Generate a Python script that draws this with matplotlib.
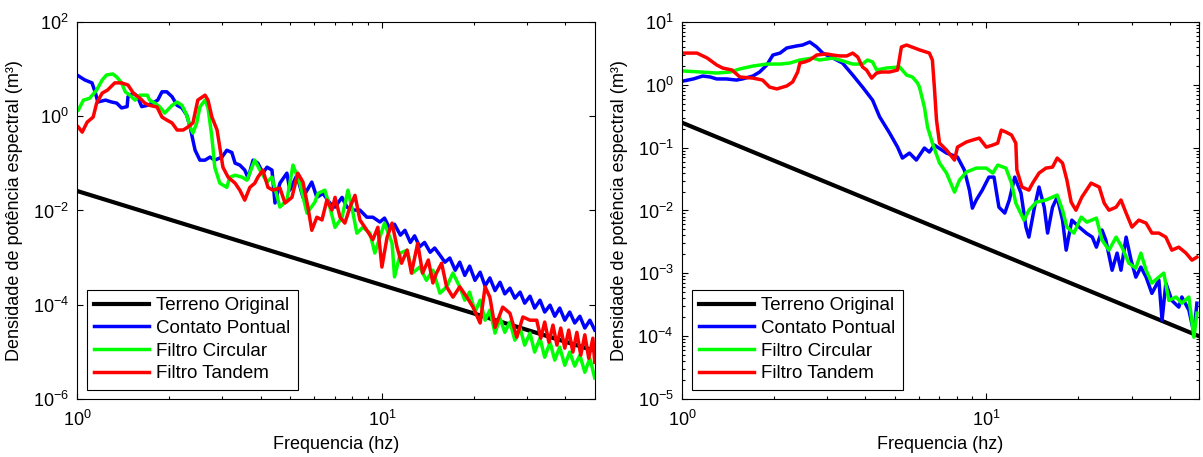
import matplotlib
matplotlib.use('Agg')
import matplotlib.pyplot as plt
from matplotlib.ticker import NullLocator, NullFormatter, LogLocator

# --- Style Configuration (MATLAB-like look) ---
plt.rcParams['font.family'] = ['Liberation Sans', 'DejaVu Sans']
plt.rcParams['mathtext.fontset'] = 'custom'
plt.rcParams['mathtext.rm'] = 'Liberation Sans'
plt.rcParams['mathtext.it'] = 'Liberation Sans:italic'
plt.rcParams['mathtext.bf'] = 'Liberation Sans:bold'
plt.rcParams['axes.linewidth'] = 0.8

LABELS = ['Terreno Original', 'Contato Pontual', 'Filtro Circular', 'Filtro Tandem']
COLORS = ['#000000', '#0000ff', '#00ff00', '#ff0000']

# --- Left panel data (frequency in Hz, PSD in m^3) ---
terreno_l_f = [1.0, 50.0]
terreno_l_p = [2.6e-2, 1.05e-5]

contato_l_f = [1.00, 1.06, 1.12, 1.15, 1.17, 1.24, 1.30, 1.35, 1.40, 1.46,
               1.47, 1.53, 1.58, 1.63, 1.70, 1.77, 1.84, 1.90, 1.97, 2.05,
               2.13, 2.21, 2.29, 2.35, 2.40, 2.44, 2.53, 2.63, 2.73, 2.83,
               2.99, 3.10, 3.22, 3.30, 3.42, 3.55, 3.64, 3.78, 3.92, 4.07,
               4.20, 4.36, 4.46, 4.63, 4.88, 4.99, 5.26, 5.51, 5.89, 6.12,
               6.41, 6.75, 7.02, 7.40, 7.68, 8.04, 8.47, 8.93, 9.34, 9.85,
               10.2, 10.6, 11.0, 11.5, 11.9, 12.4, 12.8, 13.3, 13.8, 14.4,
               14.9, 15.5, 16.1, 16.7, 17.4, 18.0, 18.7, 19.4, 20.2, 21.0,
               21.8, 22.6, 23.5, 24.4, 25.3, 26.3, 27.3, 28.4, 29.4, 30.6,
               31.7, 33.0, 34.2, 35.6, 36.9, 38.3, 39.8, 41.3, 42.9, 44.6,
               46.3, 48.1, 49.9]
contato_l_p = [7.5, 5.9, 5.1, 3.1, 2.0, 2.2, 2.0, 1.9, 1.5, 1.6,
               2.6, 3.1, 2.6, 1.6, 1.7, 1.9, 2.2, 3.3, 3.3, 2.6,
               1.7, 1.5, 1.06, 0.59, 0.31, 0.19, 0.117, 0.117, 0.136, 0.117,
               0.136, 0.19, 0.17, 0.101, 0.092, 0.072, 0.049, 0.117, 0.101, 0.062,
               0.083, 0.072, 0.0144, 0.038, 0.062, 0.027, 0.056, 0.019, 0.040, 0.019,
               0.023, 0.0144, 0.0118, 0.019, 0.0118, 0.0102, 0.0102, 0.0072, 0.0072, 0.0057,
               0.0069, 0.0042, 0.0051, 0.0030, 0.0038, 0.0021, 0.0029, 0.0017, 0.0021, 0.0013,
               0.0016, 0.00113, 0.0008, 0.00098, 0.00054, 0.0008, 0.00042, 0.00066, 0.00033, 0.00049,
               0.00025, 0.00037, 0.0002, 0.0003, 0.00017, 0.000225, 0.000138, 0.000185, 0.000108, 0.000152,
               8.5e-5, 0.000125, 7.0e-5, 9.8e-5, 5.7e-5, 8.5e-5, 4.7e-5, 7.0e-5, 4.1e-5, 5.7e-5,
               3.2e-5, 4.7e-5, 2.9e-5]

circular_l_f = [1.01, 1.05, 1.10, 1.16, 1.21, 1.25, 1.31, 1.35, 1.40, 1.44,
                1.49, 1.55, 1.61, 1.70, 1.73, 1.80, 1.87, 1.94, 2.05, 2.13,
                2.21, 2.29, 2.35, 2.40, 2.47, 2.53, 2.63, 2.69, 2.77, 2.83,
                2.94, 3.10, 3.17, 3.30, 3.48, 3.61, 3.75, 3.83, 3.98, 4.20,
                4.36, 4.63, 4.88, 5.11, 5.38, 5.68, 6.03, 6.17, 6.50, 6.75,
                7.02, 7.40, 7.74, 8.04, 8.28, 8.66, 9.14, 9.48, 9.85, 10.2,
                10.8, 11.0, 11.5, 12.1, 12.6, 13.3, 14.0, 14.7, 15.5, 16.3,
                17.1, 18.0, 18.7, 19.4, 20.2, 21.0, 21.8, 22.6, 23.5, 24.4,
                25.3, 26.3, 27.3, 28.4, 29.4, 30.6, 31.7, 33.0, 34.2, 35.6,
                36.9, 38.3, 39.8, 41.3, 42.9, 44.6, 46.3, 48.1, 49.9]
circular_l_p = [1.35, 2.2, 2.4, 3.6, 5.9, 7.5, 7.9, 6.8, 5.1, 3.3,
                2.8, 2.2, 2.8, 2.8, 2.2, 1.9, 1.57, 1.17, 1.7, 2.0,
                1.7, 1.06, 0.59, 0.44, 0.72, 1.57, 2.2, 1.49, 0.36, 0.083,
                0.038, 0.031, 0.051, 0.056, 0.051, 0.044, 0.083, 0.117, 0.072, 0.040,
                0.051, 0.0118, 0.0166, 0.092, 0.038, 0.0088, 0.0151, 0.023, 0.027, 0.0118,
                0.0044, 0.0072, 0.027, 0.0088, 0.0033, 0.0044, 0.0033, 0.00125, 0.0027, 0.0054,
                0.0020, 0.00039, 0.00125, 0.00144, 0.00047, 0.00063, 0.00033, 0.00054, 0.000176, 0.00024,
                0.00047, 0.00024, 0.000125, 0.000185, 7.0e-5, 0.000125, 4.7e-5, 7.7e-5, 2.5e-5, 5.2e-5,
                2.6e-5, 4.3e-5, 1.77e-5, 3.2e-5, 1.39e-5, 2.5e-5, 9.9e-6, 1.95e-5, 7.7e-6, 1.6e-5,
                6.7e-6, 1.26e-5, 5.2e-6, 9.9e-6, 5.0e-6, 8.5e-6, 3.7e-6, 7.3e-6, 2.8e-6]

tandem_l_f = [1.01, 1.04, 1.08, 1.13, 1.16, 1.21, 1.26, 1.33, 1.40, 1.47,
              1.53, 1.61, 1.67, 1.73, 1.83, 1.90, 1.97, 2.05, 2.13, 2.23,
              2.31, 2.40, 2.49, 2.63, 2.69, 2.77, 2.88, 2.94, 3.01, 3.13,
              3.30, 3.42, 3.55, 3.69, 3.83, 3.92, 4.07, 4.23, 4.39, 4.63,
              4.81, 5.07, 5.30, 5.51, 5.72, 5.89, 6.12, 6.36, 6.60, 6.86,
              7.02, 7.29, 7.56, 7.86, 8.16, 8.47, 8.93, 9.34, 9.70, 10.0,
              10.4, 10.8, 11.2, 11.6, 12.1, 12.5, 13.1, 13.6, 14.2, 14.7,
              15.1, 15.7, 16.3, 17.1, 18.0, 19.0, 19.9, 21.0, 21.8, 22.6,
              23.5, 24.9, 26.3, 27.7, 29.0, 30.6, 32.2, 33.2, 34.2, 35.3,
              36.4, 37.5, 38.6, 39.8, 41.0, 42.3, 43.6, 44.9, 46.3, 47.7,
              49.2, 49.9]
tandem_l_p = [0.59, 0.46, 0.75, 0.96, 1.9, 3.1, 3.6, 5.1, 5.1, 4.6,
              3.1, 2.4, 1.9, 1.7, 1.57, 0.96, 0.83, 0.72, 0.51, 0.51,
              0.59, 0.72, 2.2, 2.8, 2.2, 0.96, 0.51, 0.22, 0.083, 0.051,
              0.038, 0.027, 0.0166, 0.031, 0.038, 0.051, 0.072, 0.031, 0.027, 0.030,
              0.0144, 0.019, 0.062, 0.040, 0.0118, 0.0038, 0.0072, 0.0063, 0.0166, 0.0102,
              0.019, 0.0072, 0.0054, 0.0118, 0.021, 0.0063, 0.0038, 0.0024, 0.0044, 0.00063,
              0.0027, 0.0054, 0.0017, 0.00076, 0.00144, 0.00047, 0.0020, 0.00047, 0.00089, 0.00029,
              0.00047, 0.00076, 0.00024, 0.000145, 0.00024, 0.000145, 8.9e-5, 4.1e-5, 0.00024, 0.000145,
              3.3e-5, 8.9e-5, 6.6e-5, 2.05e-5, 5.5e-5, 4.7e-5, 4.7e-5, 1.95e-5, 4.3e-5, 1.6e-5,
              3.7e-5, 1.39e-5, 3.2e-5, 1.2e-5, 2.9e-5, 9.9e-6, 2.6e-5, 8.5e-6, 2.3e-5, 7.3e-6,
              1.95e-5, 6.0e-6]

# --- Right panel data ---
terreno_r_f = [1.0, 50.0]
terreno_r_p = [0.25, 1.0e-4]

contato_r_f = [1.01, 1.09, 1.17, 1.24, 1.30, 1.40, 1.51, 1.58, 1.71, 1.80,
               1.90, 1.99, 2.10, 2.21, 2.38, 2.49, 2.63, 2.77, 2.90, 3.13,
               3.37, 3.64, 3.92, 4.23, 4.46, 4.81, 5.11, 5.30, 5.59, 5.89,
               6.26, 6.50, 6.75, 7.40, 8.04, 8.47, 8.80, 9.00, 9.27, 9.70,
               10.2, 10.6, 11.0, 11.5, 11.9, 12.4, 13.0, 13.5, 13.8, 14.4,
               14.9, 15.5, 15.9, 16.5, 17.1, 17.8, 18.3, 19.1, 20.2, 21.3,
               22.3, 23.0, 24.0, 24.7, 25.9, 26.9, 27.7, 28.8, 29.9, 31.0,
               32.2, 33.5, 35.0, 36.9, 37.8, 38.9, 40.7, 42.9, 43.9, 46.3,
               48.1, 49.2]
contato_r_p = [1.15, 1.24, 1.38, 1.33, 1.24, 1.24, 1.19, 1.24, 1.38, 1.60,
               2.07, 2.98, 3.2, 3.86, 4.15, 4.3, 4.8, 4.0, 3.2, 2.67,
               2.22, 1.43, 0.92, 0.57, 0.31, 0.171, 0.102, 0.0683, 0.082, 0.0635,
               0.0986, 0.0851, 0.110, 0.082, 0.0709, 0.044, 0.0211, 0.0109, 0.0147, 0.0211,
               0.034, 0.034, 0.0113, 0.0091, 0.0147, 0.034, 0.0189, 0.00544, 0.00377, 0.0113,
               0.0236, 0.0113, 0.00437, 0.0113, 0.0163, 0.00703, 0.00234, 0.00703, 0.00544, 0.00437,
               0.00377, 0.00261, 0.00488, 0.00338, 0.00112, 0.0021, 0.00112, 0.00377, 0.00162, 0.00087,
               0.00126, 0.00087, 0.00048, 0.00078, 0.00018, 0.0007, 0.00037, 0.00029, 0.00042, 0.00026,
               0.000112, 0.000335]

circular_r_f = [1.01, 1.15, 1.30, 1.44, 1.55, 1.71, 1.90, 2.10, 2.26, 2.44,
                2.69, 2.83, 2.99, 3.13, 3.30, 3.64, 3.92, 4.07, 4.23, 4.36,
                4.70, 5.19, 5.47, 5.72, 5.94, 6.03, 6.26, 6.41, 6.65, 7.02,
                7.40, 7.86, 8.16, 8.60, 9.27, 10.0, 10.5, 10.9, 11.6, 12.1,
                12.5, 13.3, 13.8, 14.6, 15.7, 16.5, 17.1, 17.8, 18.4, 19.4,
                20.5, 21.4, 23.0, 24.0, 25.3, 26.7, 27.9, 29.4, 31.0, 32.2,
                33.5, 35.0, 36.9, 38.3, 39.8, 42.0, 43.9, 46.3, 48.1, 49.2]
circular_r_p = [1.66, 1.60, 1.54, 1.60, 1.79, 1.99, 2.14, 2.14, 2.22, 2.48,
                2.67, 2.48, 2.58, 2.67, 2.48, 2.14, 2.14, 2.48, 2.31, 1.72,
                1.85, 1.92, 1.43, 1.33, 1.07, 0.92, 0.44, 0.213, 0.118, 0.0569,
                0.0394, 0.0196, 0.0305, 0.0409, 0.0473, 0.0473, 0.0394, 0.0528, 0.0473, 0.0273,
                0.0131, 0.00703, 0.0101, 0.0136, 0.0147, 0.0163, 0.0176, 0.0101, 0.00544, 0.00437,
                0.00785, 0.00653, 0.00757, 0.00338, 0.00234, 0.00377, 0.00261, 0.00145, 0.00121, 0.0021,
                0.00112, 0.0007, 0.00087, 0.00101, 0.00037, 0.00042, 0.000335, 0.00042, 9.6e-5, 0.000232]

tandem_r_f = [1.01, 1.12, 1.21, 1.30, 1.36, 1.46, 1.55, 1.71, 1.84, 1.94,
              2.05, 2.21, 2.31, 2.40, 2.44, 2.53, 2.63, 2.77, 2.99, 3.13,
              3.30, 3.48, 3.64, 3.78, 3.92, 4.04, 4.20, 4.36, 4.53, 4.81,
              5.11, 5.26, 5.47, 6.03, 6.50, 6.65, 6.75, 6.86, 7.02, 7.40,
              7.86, 8.04, 8.60, 9.00, 9.48, 10.0, 10.5, 10.9, 11.2, 11.6,
              12.1, 12.5, 12.6, 13.1, 13.8, 14.2, 14.9, 15.7, 16.5, 17.1,
              17.8, 18.4, 19.0, 19.7, 20.6, 22.1, 23.5, 24.4, 25.3, 26.7,
              27.7, 28.8, 30.1, 31.7, 33.5, 35.0, 36.9, 38.9, 40.7, 42.9,
              45.3, 47.4, 49.2]
tandem_r_p = [3.2, 3.2, 2.67, 2.07, 1.85, 1.72, 1.33, 1.28, 1.19, 0.92,
              0.86, 0.96, 1.11, 1.60, 2.22, 2.31, 2.48, 2.98, 3.1, 2.98,
              2.88, 2.88, 3.2, 2.77, 1.92, 1.72, 1.28, 1.54, 1.60, 1.60,
              1.72, 4.0, 4.3, 3.6, 3.2, 2.48, 0.92, 0.275, 0.118, 0.0916,
              0.0635, 0.102, 0.123, 0.132, 0.142, 0.102, 0.110, 0.118, 0.19, 0.177,
              0.159, 0.118, 0.044, 0.0236, 0.0211, 0.0273, 0.0394, 0.0473, 0.049, 0.0683,
              0.0569, 0.0305, 0.0136, 0.0101, 0.0163, 0.0273, 0.0236, 0.0131, 0.0101, 0.0113,
              0.0147, 0.0091, 0.00544, 0.00703, 0.0063, 0.00437, 0.00437, 0.00377, 0.00234, 0.00261,
              0.0021, 0.00162, 0.00181]


def draw_panel(ax, curves, ylim, yticks, minor_y):
    for (f, p), color, label in zip(curves, COLORS, LABELS):
        lw = 3.0 if color == '#000000' else 2.5
        ax.plot(f, p, color=color, linewidth=lw, label=label)

    ax.set_xscale('log')
    ax.set_yscale('log')
    ax.set_xlim(1, 50)
    ax.set_ylim(*ylim)
    ax.set_xticks([1, 10])
    ax.set_yticks(yticks)
    ax.xaxis.set_minor_locator(LogLocator(base=10, subs=range(2, 10)))
    ax.xaxis.set_minor_formatter(NullFormatter())
    if minor_y:
        ax.yaxis.set_minor_locator(LogLocator(base=10, subs=range(2, 10)))
    else:
        ax.yaxis.set_minor_locator(NullLocator())
    ax.yaxis.set_minor_formatter(NullFormatter())

    ax.tick_params(which='both', direction='in', top=True, right=True,
                   width=0.8, labelsize=13)
    ax.tick_params(axis='x', pad=8)
    ax.tick_params(axis='y', pad=6)
    ax.tick_params(which='major', length=4)
    ax.tick_params(which='minor', length=2.5)

    ax.set_xlabel('Frequencia (hz)', fontsize=13, labelpad=4)
    ax.set_ylabel('Densidade de potência espectral (m³)', fontsize=13, labelpad=7)

    leg = ax.legend(loc='lower left', bbox_to_anchor=(0.0193, 0.0239),
                    borderaxespad=0, fontsize=13.5, frameon=True, fancybox=False,
                    framealpha=1, edgecolor='black', handlelength=2.9,
                    handletextpad=0.4, labelspacing=0.3, borderpad=0.4)
    leg.get_frame().set_linewidth(0.8)


fig = plt.figure(figsize=(12.03, 4.57), dpi=100)
ax_left = fig.add_axes([0.0640, 0.1269, 0.4306, 0.8250])
ax_right = fig.add_axes([0.5669, 0.1269, 0.4298, 0.8250])

draw_panel(ax_left,
           [(terreno_l_f, terreno_l_p), (contato_l_f, contato_l_p),
            (circular_l_f, circular_l_p), (tandem_l_f, tandem_l_p)],
           (1e-6, 1e2), [1e-6, 1e-4, 1e-2, 1e0, 1e2], minor_y=False)

draw_panel(ax_right,
           [(terreno_r_f, terreno_r_p), (contato_r_f, contato_r_p),
            (circular_r_f, circular_r_p), (tandem_r_f, tandem_r_p)],
           (1e-5, 1e1), [1e-5, 1e-4, 1e-3, 1e-2, 1e-1, 1e0, 1e1], minor_y=True)

fig.savefig('out.png', dpi=100)
